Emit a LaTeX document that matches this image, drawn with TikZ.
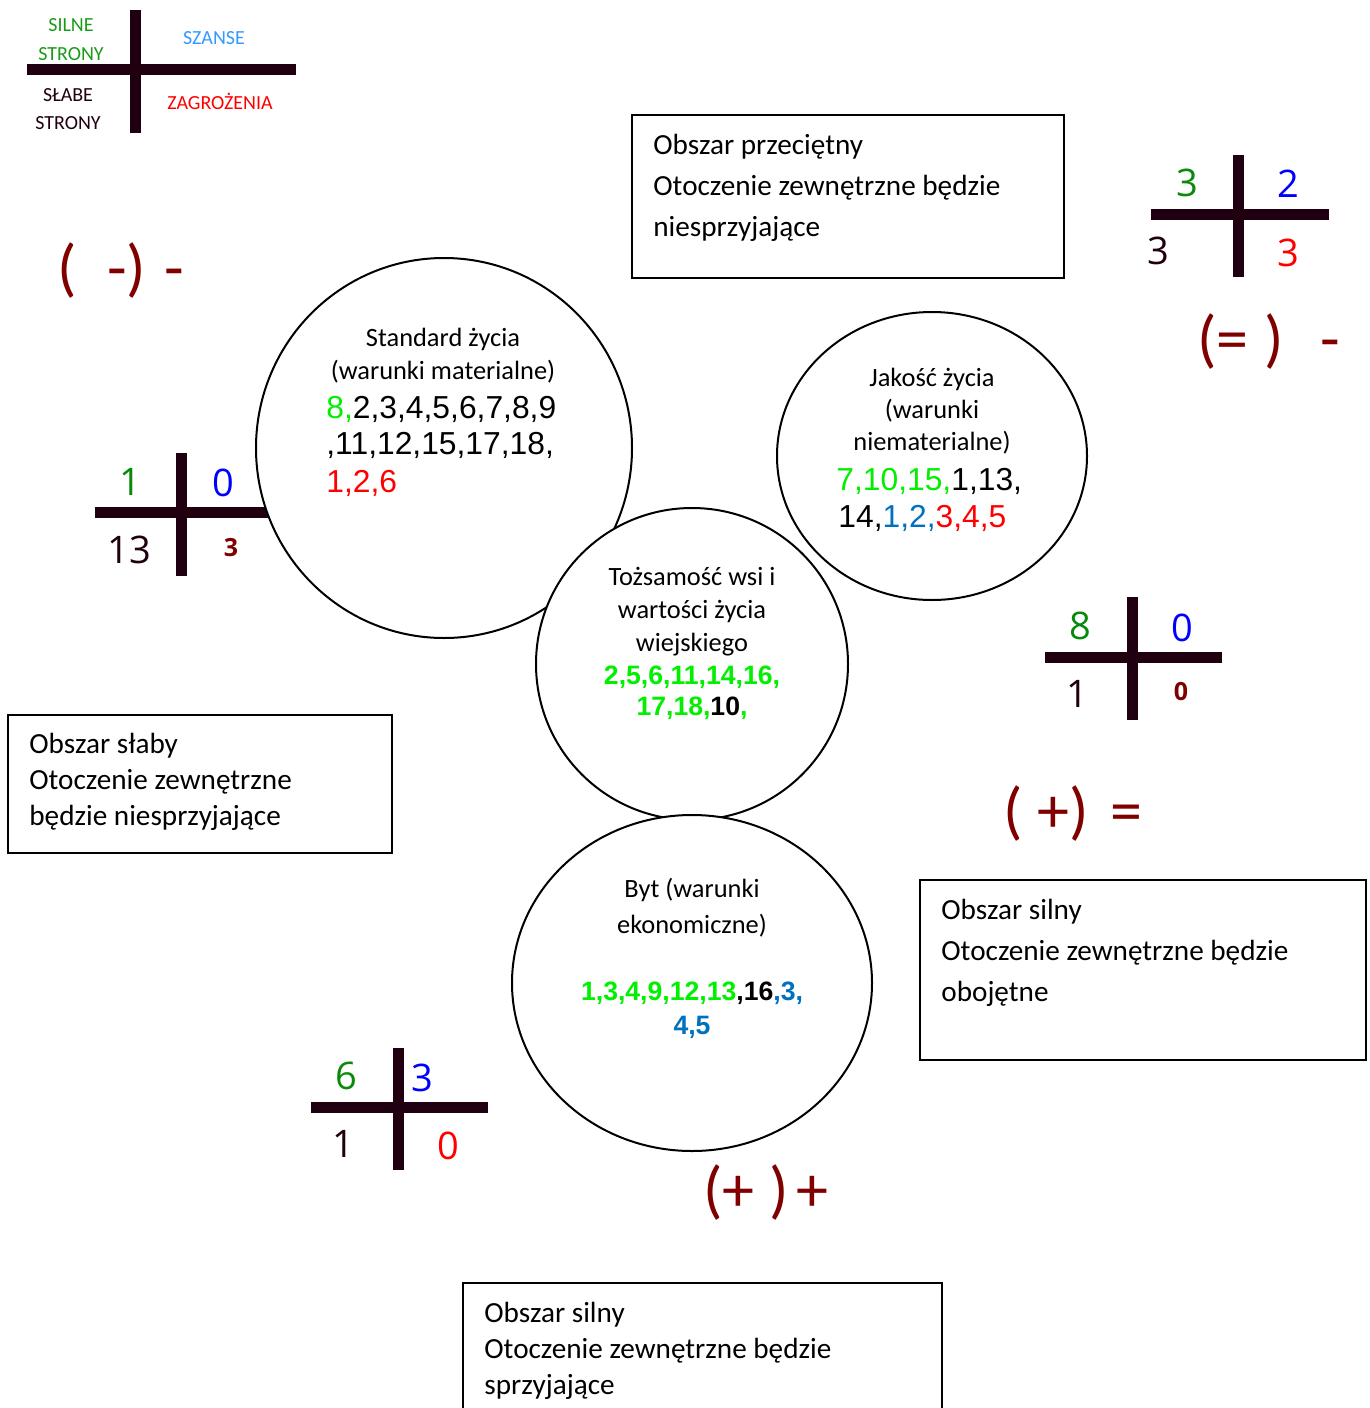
\documentclass[tikz,border=0pt]{standalone}
\usepackage{fontspec}
\setmainfont{Carlito}
\newfontfamily\numfont{Liberation Sans}
\newfontfamily\digfont{Open Sans}
\definecolor{barcol}{HTML}{200010}
\definecolor{legendgreen}{HTML}{1A9A1A}
\definecolor{legendblue}{HTML}{3399FF}
\definecolor{crossgreen}{HTML}{0A8A0A}
\definecolor{crossblue}{HTML}{0000FF}
\definecolor{darkred}{HTML}{800000}
\definecolor{numgreen}{HTML}{00F000}
\definecolor{numblue}{HTML}{0070C0}
\begin{document}
\begin{tikzpicture}[x=0.5pt,y=-0.5pt,
    bar/.style={line width=5.5pt,draw=barcol},
    circ/.style={draw=black,line width=1pt,fill=white},
    box/.style={draw=black,line width=1pt},
    every node/.style={inner sep=0pt,anchor=base},
    legend/.style={font=\fontsize{10}{12}\selectfont},
    boxtxt/.style={anchor=base west,font=\fontsize{14.6}{17}\selectfont},
    circtxt/.style={font=\fontsize{13.2}{16}\selectfont},
    nums/.style={font=\numfont\fontsize{15.9}{19}\selectfont},
    boldnums/.style={font=\numfont\bfseries\fontsize{13.3}{16}\selectfont},
    digit/.style={font=\digfont\fontsize{19}{22}\selectfont},
    smalldigit/.style={font=\digfont\bfseries\fontsize{12.5}{15}\selectfont,text=darkred},
    sign/.style={anchor=base west,font=\fontsize{32}{36}\selectfont,text=darkred}]
    \useasboundingbox (0,0) rectangle (1370,1408);

    % Legenda
    \draw[bar] (135,10) -- (135,133);
    \draw[bar] (27,69) -- (296,69);
    \node[legend,text=legendgreen] (silne1) at (71,32) {SILNE};
    \node[legend,text=legendgreen] (silne2) at (71,60) {STRONY};
    \node[legend,text=legendblue] (szanse) at (214,44) {SZANSE};
    \node[legend,text=barcol] (slabe1) at (68,101) {SŁABE};
    \node[legend,text=barcol] (slabe2) at (68,129) {STRONY};
    \node[legend,text=red] (zagrozenia) at (220,109) {ZAGROŻENIA};

    % Obszar przeciętny
    \draw[box] (632,115) rectangle (1064,278);
    \node[boxtxt] (przec1) at (653,154) {Obszar przeciętny};
    \node[boxtxt] (przec2) at (653,195) {Otoczenie zewnętrzne będzie};
    \node[boxtxt] (przec3) at (653,236) {niesprzyjające};

    % Znak lewy górny
    \node[sign] (znak1) at (57,289) {( \hspace{8pt}-) \hspace{2pt}-};

    % Krzyż prawy górny
    \draw[bar] (1238,155) -- (1238,277);
    \draw[bar] (1151,214) -- (1329,214);
    \node[digit,text=crossgreen] (k1so) at (1187,196) {3};
    \node[digit,text=crossblue] (k1sz) at (1288,197) {2};
    \node[digit,text=barcol] (k1ss) at (1158,264) {3};
    \node[digit,text=red] (k1za) at (1288,266) {3};
    \node[sign] (znak2) at (1197,360) {(=\hspace{8pt})\hspace{18pt}-};

    % Krzyż lewy
    \draw[bar] (181,453) -- (181,576);
    \draw[bar] (95,512) -- (270,512);
    \node[digit,text=crossgreen] (k2so) at (130,495) {1};
    \node[digit,text=crossblue] (k2sz) at (223,496) {0};
    \node[digit,text=barcol] (k2ss) at (129,563) {13};
    \node[smalldigit] (k2za) at (231,556) {3};

    % Standard życia
    \draw[circ] (444,448) ellipse [x radius=188, y radius=190];
    \node[circtxt] (std1) at (443,346) {Standard życia};
    \node[circtxt] (std2) at (443,379) {(warunki materialne)};
    \node[nums,anchor=base west] (std3) at (326,418) {\textcolor{numgreen}{8,}2,3,4,5,6,7,8,9};
    \node[nums,anchor=base west] (std4) at (326,454) {,11,12,15,17,18,};
    \node[nums,anchor=base west,text=red] (std5) at (326,492) {1,2,6};

    % Jakość życia
    \draw[circ] (932,456) ellipse [x radius=155, y radius=144];
    \node[circtxt] (jak1) at (932,386) {Jakość życia};
    \node[circtxt] (jak2) at (932,418) {(warunki};
    \node[circtxt] (jak3) at (932,450) {niematerialne)};
    \node[nums,anchor=base west] (jak4) at (836,490) {\textcolor{numgreen}{7,10,15,}1,13,};
    \node[nums,anchor=base west] (jak5) at (838,527) {14,\textcolor{numblue}{1,2,}\textcolor{red}{3,4,5}};

    % Tożsamość wsi
    \draw[circ] (692,664) ellipse [x radius=156, y radius=156];
    \node[circtxt] (toz1) at (692,585) {Tożsamość wsi i};
    \node[circtxt] (toz2) at (692,618) {wartości życia};
    \node[circtxt] (toz3) at (692,651) {wiejskiego};
    \node[boldnums,text=numgreen] (toz4) at (692,684) {2,5,6,11,14,16,};
    \node[boldnums,text=numgreen] (toz5) at (692,715) {17,18,\textcolor{black}{10},};

    % Krzyż prawy środkowy
    \draw[bar] (1132,597) -- (1132,720);
    \draw[bar] (1045,657) -- (1222,657);
    \node[digit,text=crossgreen] (k3so) at (1080,639) {8};
    \node[digit,text=crossblue] (k3sz) at (1182,641) {0};
    \node[digit,text=barcol] (k3ss) at (1077,707) {1};
    \node[smalldigit] (k3za) at (1181,700) {0};
    \node[sign] (znak3) at (1003,832) {( +) \hspace{4pt}=};

    % Obszar słaby
    \draw[box] (8,715) rectangle (392,853);
    \node[boxtxt] (slab1) at (29,753) {Obszar słaby};
    \node[boxtxt] (slab2) at (29,789) {Otoczenie zewnętrzne};
    \node[boxtxt] (slab3) at (29,825) {będzie niesprzyjające};

    % Byt
    \draw[circ] (692,983) ellipse [x radius=180, y radius=168];
    \node[circtxt] (byt1) at (692,897) {Byt (warunki};
    \node[circtxt] (byt2) at (692,933) {ekonomiczne)};
    \node[boldnums,text=numgreen] (byt3) at (692,1000) {1,3,4,9,12,13\textcolor{black}{,16}\textcolor{numblue}{,3,}};
    \node[boldnums,text=numblue] (byt4) at (692,1034) {4,5};

    % Obszar silny (obojętne)
    \draw[box] (920,880) rectangle (1366,1060);
    \node[boxtxt] (sil1) at (941,919) {Obszar silny};
    \node[boxtxt] (sil2) at (941,960) {Otoczenie zewnętrzne będzie};
    \node[boxtxt] (sil3) at (941,1001) {obojętne};

    % Krzyż dolny
    \draw[bar] (398,1048) -- (398,1170);
    \draw[bar] (311,1107) -- (488,1107);
    \node[digit,text=crossgreen] (k4so) at (346,1089) {6};
    \node[digit,text=crossblue] (k4sz) at (422,1091) {3};
    \node[digit,text=barcol] (k4ss) at (343,1157) {1};
    \node[digit,text=red] (k4za) at (448,1159) {0};
    \node[sign] (znak4) at (703,1211) {(+\hspace{7.5pt})\hspace{3.5pt}+};

    % Obszar silny (sprzyjające)
    \draw[box] (463,1283) rectangle (942,1430);
    \node[boxtxt] (spr1) at (484,1322) {Obszar silny};
    \node[boxtxt] (spr2) at (484,1358) {Otoczenie zewnętrzne będzie};
    \node[boxtxt] (spr3) at (484,1394) {sprzyjające};
\end{tikzpicture}
\end{document}
